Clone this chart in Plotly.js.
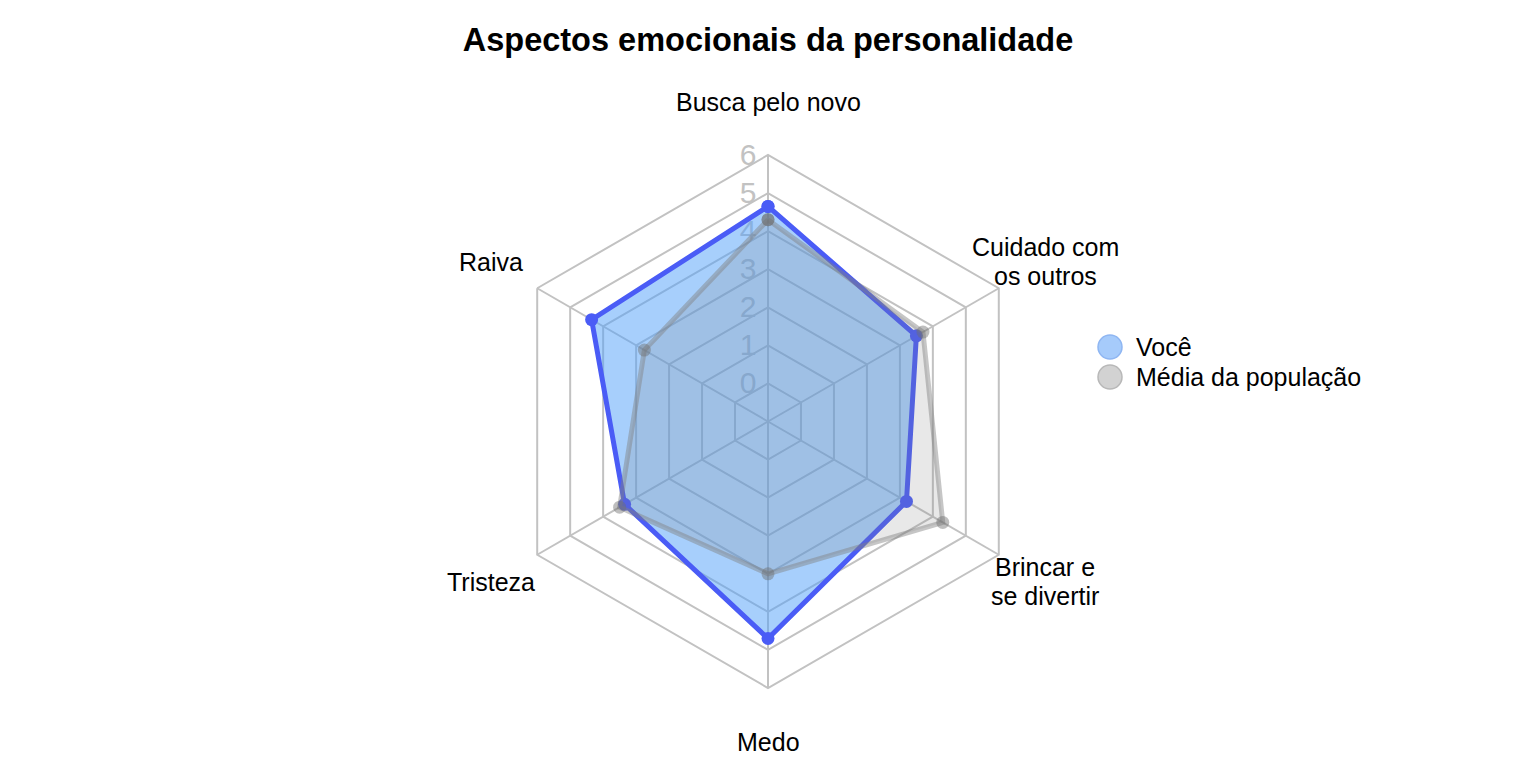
<!DOCTYPE html>
<html>
<head>
<meta charset="utf-8">
<script src="https://cdn.plot.ly/plotly-3.0.1.min.js"></script>
<style>html,body{margin:0;padding:0;background:#fff}#chart{width:1536px;height:768px}</style>
</head>
<body>
<div id="chart"></div>
<script>
var categories = ['Busca pelo novo', 'Cuidado com<br>os outros', 'Brincar e<br>se divertir', 'Medo', 'Tristeza', 'Raiva'];
var voce = [4.65, 3.5, 3.2, 4.7, 3.35, 4.35];
var media = [4.3, 3.7, 4.3, 3.0, 3.5, 2.75];
var seriesNames = ['Você', 'Média da população'];
var radialTicks = [0, 1, 2, 3, 4, 5, 6];

function closeLoop(a) { return a.concat([a[0]]); }

var W = 1536, H = 768;
var cx = 768, cy = 421.5, R = 266.5;

var traces = [
  {
    type: 'scatterpolar',
    name: seriesNames[0],
    r: closeLoop(voce),
    theta: closeLoop(categories),
    mode: 'lines+markers',
    fill: 'toself',
    fillcolor: 'rgba(80,160,250,0.5)',
    line: {color: 'rgb(74,92,246)', width: 5},
    marker: {color: 'rgb(74,92,246)', size: 13},
    showlegend: false
  },
  {
    type: 'scatterpolar',
    name: seriesNames[1],
    r: closeLoop(media),
    theta: closeLoop(categories),
    mode: 'lines+markers',
    fill: 'toself',
    fillcolor: 'rgba(128,128,128,0.18)',
    line: {color: 'rgba(128,128,128,0.45)', width: 5},
    marker: {color: 'rgba(110,110,110,0.45)', size: 13},
    showlegend: false
  }
];

var legendColors = [
  {fill: '#a6cbfb', line: '#8fb6f2'},
  {fill: '#d2d2d2', line: '#b8b8b8'}
];
var shapes = [], annotations = [];
seriesNames.forEach(function (n, i) {
  var yc = 1 - (347 + 30 * i) / H;
  shapes.push({
    type: 'circle', xref: 'paper', yref: 'paper',
    xsizemode: 'pixel', ysizemode: 'pixel',
    xanchor: 1110 / W, yanchor: yc,
    x0: -12, x1: 12, y0: -12, y1: 12,
    fillcolor: legendColors[i].fill,
    line: {color: legendColors[i].line, width: 1.5}
  });
  annotations.push({
    xref: 'paper', yref: 'paper', x: 1134 / W, y: yc,
    xanchor: 'left', yanchor: 'middle', showarrow: false,
    text: n, font: {size: 25, color: '#000'}
  });
});

// category labels, centred on each spoke direction outside the grid
var labelRadius = 320, lineGap = 29;
categories.forEach(function (c, i) {
  var ang = (90 - i * 360 / categories.length) * Math.PI / 180;
  var px = cx + labelRadius * Math.cos(ang);
  var py = cy - labelRadius * Math.sin(ang);
  var lines = c.split('<br>');
  lines.forEach(function (ln, j) {
    var ly = py + (j - (lines.length - 1) / 2) * lineGap;
    annotations.push({
      xref: 'paper', yref: 'paper', x: px / W, y: 1 - ly / H,
      xanchor: 'center', yanchor: 'middle', showarrow: false,
      text: ln, font: {size: 25, color: '#000'}
    });
  });
});

var layout = {
  width: W, height: H,
  margin: {l: 0, r: 0, t: 0, b: 0},
  paper_bgcolor: '#fff',
  font: {family: 'Liberation Sans, Arial, sans-serif', color: '#000'},
  title: {
    text: '<b>Aspectos emocionais da personalidade</b>',
    font: {size: 32.5, color: '#000'},
    x: 0.5, xanchor: 'center', y: 1 - 40 / H, yanchor: 'middle', yref: 'container'
  },
  showlegend: false,
  shapes: shapes,
  annotations: annotations,
  polar: {
    domain: {x: [(cx - R) / W, (cx + R) / W], y: [(H - cy - R) / H, (H - cy + R) / H]},
    bgcolor: '#fff',
    gridshape: 'linear',
    radialaxis: {
      range: [-1, 6], tickvals: radialTicks, ticktext: radialTicks.map(String),
      angle: 90, side: 'counterclockwise', tickangle: 90,
      tickfont: {size: 30, color: '#c2c2c2'},
      gridcolor: '#c2c2c2', gridwidth: 2,
      showline: true, linecolor: '#c2c2c2', linewidth: 2,
      ticks: '', layer: 'below traces'
    },
    angularaxis: {
      rotation: 90, direction: 'clockwise',
      showticklabels: false,
      gridcolor: '#c2c2c2', gridwidth: 2,
      showline: true, linecolor: '#c2c2c2', linewidth: 2,
      ticks: '', layer: 'below traces'
    }
  }
};

Plotly.newPlot('chart', traces, layout, {displayModeBar: false, responsive: false});
</script>
</body>
</html>
